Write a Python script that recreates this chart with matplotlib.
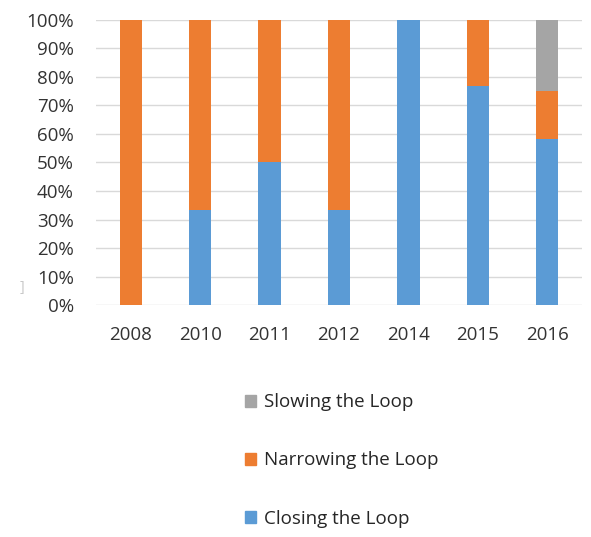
import matplotlib.pyplot as plt
import numpy as np
from matplotlib.patches import Patch
from matplotlib.ticker import PercentFormatter

plt.rcParams['font.family'] = ['Open Sans', 'DejaVu Sans']

# share of each approach per year (%)
years = ['2008', '2010', '2011', '2012', '2014', '2015', '2016']
closing = [0, 33.3, 50, 33.3, 100, 76.9, 58.3]
narrowing = [100, 66.7, 50, 66.7, 0, 23.1, 16.7]
slowing = [0, 0, 0, 0, 0, 0, 25]

c_closing = '#5B9BD5'
c_narrowing = '#ED7D31'
c_slowing = '#A5A5A5'

fig = plt.figure(figsize=(5.91, 5.37), dpi=100)
ax = fig.add_axes([0.1624, 0.432, 0.8224, 0.5308])

x = np.arange(len(years))
w = 0.32
closing = np.array(closing)
narrowing = np.array(narrowing)
slowing = np.array(slowing)
ax.bar(x, closing, w, color=c_closing, zorder=3)
ax.bar(x, narrowing, w, bottom=closing, color=c_narrowing, zorder=3)
ax.bar(x, slowing, w, bottom=closing + narrowing, color=c_slowing, zorder=3)

ax.set_xlim(-0.5, len(years) - 0.5)
ax.set_ylim(0, 100)
ax.set_yticks(np.arange(0, 101, 10))
ax.yaxis.set_major_formatter(PercentFormatter(decimals=0))
ax.set_xticks(x)
ax.set_xticklabels(years)
ax.tick_params(axis='both', length=0, labelsize=13.5, colors='#333333')
ax.tick_params(axis='x', pad=15)
ax.tick_params(axis='y', pad=16)
ax.grid(axis='y', color='#d9d9d9', linewidth=1, zorder=0)
for s in ax.spines.values():
    s.set_visible(False)

fig.text(0.037, 0.465, ']', fontsize=10, color='#c8c8c8', ha='center', va='center')

handles = [Patch(color=c_slowing), Patch(color=c_narrowing), Patch(color=c_closing)]
labels = ['Slowing the Loop', 'Narrowing the Loop', 'Closing the Loop']
fig.legend(handles, labels, loc='center left', bbox_to_anchor=(0.4146, 0.1425),
           frameon=False, fontsize=13.5, borderpad=0, borderaxespad=0,
           handlelength=0.6, handleheight=0.6, handletextpad=0.4,
           labelspacing=2.15, labelcolor='#262626')

fig.savefig('out.png', dpi=100)
